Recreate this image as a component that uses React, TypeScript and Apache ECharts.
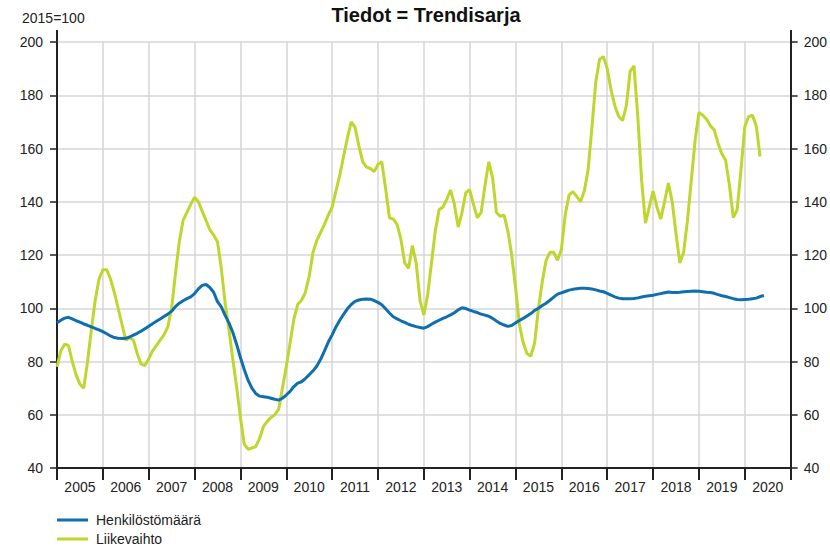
import React, { useEffect, useRef } from "react";
import * as echarts from "echarts";

const years = ["2005","2006","2007","2008","2009","2010","2011","2012","2013","2014","2015","2016","2017","2018","2019","2020"];
const yTicks = { min: 40, max: 200, interval: 20 };

// Monthly values from Jan 2005 (index 0)
const liikevaihto = [
  78,84,86.5,86,80,75,71.5,70,80,92,103,111,
  114.5,114.5,111,106,100,94,88,89,88,83,79,78.5,
  81,84,86,88,90,93,100,113,125,133,136,139,
  141.7,140,136.5,133,129.5,127.5,125,115,102,92,81,70.5,
  59,49,47,47.5,48,51,55.5,57.5,59,60,62,70,
  78,87,96,101.5,103,106,112,121,125.5,128.5,131.5,135,
  138,144,150,157,164,170,168,161,155,153,152.5,151.3,
  154,155,145,134,133.5,131.5,126,117,115,123.5,117,103,
  97.5,105,117,129,137,138,141,144.4,139,130.5,136,143.5,
  144.5,139,134,136,146,155,149,136,134.5,135,129,120,
  108,94,87,83,82,87,100,110,118,121,121,118,
  122,135,142.5,143.8,142,140,144,152,168,185,193.5,194.5,
  190,182,176,172,170.5,176,189,191,172,148,132,138,
  144,138,133.5,140,147,140,128,117,121,133,148,163,
  173.5,172.5,171,168.5,167,162,158,155.5,146,134,137,152,
  168.2,172,172.5,168.5,157
];

const henkilosto = [
  94.5,95.5,96.3,96.6,96,95.3,94.8,94.1,93.6,93,92.4,91.9,
  91.2,90.4,89.6,89,88.7,88.6,88.7,89.2,89.9,90.6,91.4,92.3,
  93.2,94.2,95.1,96,96.9,97.8,98.9,100.6,101.9,102.8,103.6,104.3,
  105.5,107.3,108.6,108.9,107.8,106,102.5,100.5,97.3,94.5,91,86.5,
  81.5,77,73,70,68,67,66.8,66.6,66.2,65.8,65.5,66.2,
  67.4,68.8,70.6,71.9,72.4,73.6,75,76.5,78.3,80.8,84,87.3,
  90,93,95.5,97.7,99.8,101.4,102.6,103.1,103.4,103.5,103.4,102.9,
  102.2,101.3,99.8,98.2,96.8,96,95.3,94.7,94,93.5,93.1,92.8,
  92.5,93.1,94,94.8,95.5,96.2,96.8,97.5,98.3,99.4,100.2,99.9,
  99.3,98.8,98.4,97.8,97.4,97,96.2,95.2,94.3,93.7,93.2,93.5,
  94.5,95.4,96.2,97.1,98,99.2,100,101,101.9,103,104.2,105.3,
  105.8,106.3,106.8,107.1,107.3,107.5,107.5,107.4,107.2,106.9,106.5,106.2,
  105.6,104.9,104.3,103.8,103.6,103.6,103.6,103.7,103.9,104.2,104.5,104.7,
  104.9,105.2,105.5,105.8,106.1,105.9,105.9,106,106.2,106.3,106.4,106.5,
  106.4,106.2,106,105.9,105.6,105.1,104.7,104.4,104,103.6,103.3,103.2,
  103.3,103.4,103.6,103.8,104.4,104.8
];

const seriesNames = ["Henkilöstömäärä", "Liikevaihto"];

const FONT = "'Liberation Sans', Arial, sans-serif";
const BLUE = "#0f6fae";
const GREEN = "#bfd62e";
const TXT = "#222";

export default function App() {
  const ref = useRef<HTMLDivElement>(null);
  useEffect(() => {
    if (!ref.current) return;
    const chart = echarts.init(ref.current, null, { renderer: "svg" });
    const months = years.length * 12;
    const legendBase = {
      orient: "vertical",
      left: 57,
      padding: 0,
      icon: "rect",
      itemWidth: 31,
      itemHeight: 3,
      itemGap: 0,
      textStyle: { fontSize: 14, color: TXT, fontFamily: FONT, padding: [0, 0, 0, 3] },
    };
    chart.setOption({
      animation: false,
      textStyle: { fontFamily: FONT },
      title: {
        text: "Tiedot = Trendisarja",
        left: 421,
        textAlign: "center",
        top: 0,
        textStyle: { fontSize: 20, fontWeight: "bold", color: "#111", fontFamily: FONT },
      },
      graphic: [
        { type: "text", left: 22, top: 11, style: { text: "2015=100", fontSize: 14, fill: TXT, fontFamily: FONT } },
        { type: "line", shape: { x1: 57, y1: 30, x2: 57, y2: 42 }, style: { stroke: "#222", lineWidth: 2 } },
        { type: "line", shape: { x1: 791, y1: 30, x2: 791, y2: 42 }, style: { stroke: "#222", lineWidth: 2 } },
      ],
      legend: [
        { ...legendBase, top: 513, data: [seriesNames[0]] },
        { ...legendBase, top: 532, data: [seriesNames[1]] },
      ],
      grid: { left: 57, right: 39, top: 42, bottom: 79 },
      xAxis: [
        {
          type: "category",
          data: years,
          boundaryGap: true,
          axisLine: { show: true, lineStyle: { color: "#222", width: 2 } },
          axisTick: { show: true, length: 12, interval: 0, lineStyle: { color: "#222", width: 2 } },
          axisLabel: { interval: 0, margin: 12, fontSize: 14, color: TXT, fontFamily: FONT },
          splitLine: { show: true, interval: 0, lineStyle: { color: "#d6d6d6", width: 1.5 } },
        },
        {
          type: "value",
          min: 0,
          max: months,
          show: false,
          splitLine: { show: false },
        },
      ],
      yAxis: [
        {
          type: "value",
          position: "left",
          ...yTicks,
          axisLine: { show: true, lineStyle: { color: "#222", width: 2 } },
          axisTick: { show: true, length: 7, lineStyle: { color: "#222", width: 1.5 } },
          axisLabel: { margin: 14, fontSize: 14, color: TXT, fontFamily: FONT },
          splitLine: { show: true, lineStyle: { color: "#d6d6d6", width: 1.5 } },
        },
        {
          type: "value",
          position: "right",
          ...yTicks,
          axisLine: { show: true, lineStyle: { color: "#222", width: 2 } },
          axisTick: { show: true, length: 7, lineStyle: { color: "#222", width: 1.5 } },
          axisLabel: { margin: 13, fontSize: 14, color: TXT, fontFamily: FONT },
          splitLine: { show: false },
        },
      ],
      series: [
        {
          name: seriesNames[0],
          type: "line",
          xAxisIndex: 1,
          yAxisIndex: 0,
          symbol: "none",
          data: henkilosto.map((v, i) => [i, v]),
          lineStyle: { color: BLUE, width: 3 },
          itemStyle: { color: BLUE },
          z: 3,
        },
        {
          name: seriesNames[1],
          type: "line",
          xAxisIndex: 1,
          yAxisIndex: 0,
          symbol: "none",
          data: liikevaihto.map((v, i) => [i, v]),
          lineStyle: { color: GREEN, width: 3 },
          itemStyle: { color: GREEN },
          z: 2,
        },
      ],
    });
    return () => chart.dispose();
  }, []);
  return <div ref={ref} style={{ width: 830, height: 547, position: "absolute", left: 0, top: 0 }} />;
}
